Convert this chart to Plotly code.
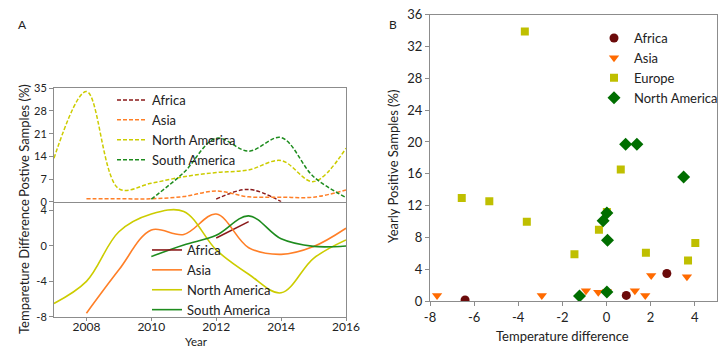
import plotly.graph_objects as go

W, H = 728, 348
FONT = "Lato"

# ---------------- Panel A data ----------------
years_all = [2007, 2008, 2009, 2010, 2011, 2012, 2013, 2014, 2015, 2016]

# Positive samples (%) by year (upper, dashed)
pos_africa_years = [2012, 2013, 2014]
pos_africa = [0.8, 3.8, 0.0]
pos_asia_years = [2008, 2009, 2010, 2011, 2012, 2013, 2014, 2015, 2016]
pos_asia = [0.9, 0.9, 0.9, 1.6, 3.3, 1.5, 1.4, 1.4, 3.6]
pos_na_years = years_all
pos_na = [13.4, 34.0, 4.0, 5.7, 7.7, 9.0, 9.8, 12.7, 6.2, 16.5]
pos_sa_years = [2010, 2011, 2012, 2013, 2014, 2015, 2016]
pos_sa = [0.8, 9.0, 19.6, 15.6, 19.8, 7.7, 1.3]

# Temperature difference by year (lower, solid)
td_africa_years = [2012, 2013]
td_africa = [0.9, 2.75]
td_asia_years = [2008, 2009, 2010, 2011, 2012, 2013, 2014, 2015, 2016]
td_asia = [-7.6, -2.7, 1.8, 1.3, 3.6, -0.2, -0.95, -0.07, 2.0]
td_na_years = years_all
td_na = [-6.5, -4.0, 1.6, 3.6, 3.9, -0.45, -3.2, -5.3, -1.4, 0.68]
td_sa_years = [2010, 2011, 2012, 2013, 2014, 2015, 2016]
td_sa = [-1.2, 0.1, 1.2, 3.4, 0.8, -0.05, 0.0]

# ---------------- Panel B data ----------------
b_africa_x = [-6.41, 0.90, 2.74]
b_africa_y = [0.13, 0.7, 3.46]
b_asia_x = [-7.68, -2.93, -0.93, -0.37, 0.02, 1.29, 1.76, 2.03, 3.65]
b_asia_y = [0.7, 0.7, 1.3, 1.1, 1.2, 1.3, 0.7, 3.2, 3.04]
b_europe_x = [-3.70, -6.56, -5.31, -3.61, -1.45, -0.34, 0.02, 0.65, 1.79, 3.70, 4.03]
b_europe_y = [33.9, 12.96, 12.54, 9.96, 5.88, 8.96, 11.2, 16.55, 6.08, 5.08, 7.29]
b_na_x = [-1.22, 0.02, 0.05, -0.15, 0.02, 0.87, 1.38, 3.50]
b_na_y = [0.63, 1.13, 7.63, 10.08, 11.08, 19.7, 19.7, 15.58]

C_AF_LINE = "#8B1A1A"
C_AS_LINE = "#FF7F27"
C_NA_LINE = "#CCCC00"
C_SA_LINE = "#1E8C1E"
C_AF_MK = "#6B0A0A"
C_AS_MK = "#FF6A00"
C_EU_MK = "#BFBF00"
C_NA_MK = "#006E00"
AXC = "#8C8C8C"
TXT = "#222"

def px_x(p):
    return p / W

def px_y(p):
    return 1 - p / H

fig = go.Figure()

dash = "4px,2px"
for name, xs, ys, col in [
    ("Africa", pos_africa_years, pos_africa, C_AF_LINE),
    ("Asia", pos_asia_years, pos_asia, C_AS_LINE),
    ("North America", pos_na_years, pos_na, C_NA_LINE),
    ("South America", pos_sa_years, pos_sa, C_SA_LINE),
]:
    fig.add_trace(go.Scatter(x=xs, y=ys, name=name, mode="lines",
                             line=dict(color=col, width=1.5, dash=dash, shape="spline", smoothing=1.0),
                             xaxis="x", yaxis="y", legend="legend"))

for name, xs, ys, col in [
    ("Africa", td_africa_years, td_africa, C_AF_LINE),
    ("Asia", td_asia_years, td_asia, C_AS_LINE),
    ("North America", td_na_years, td_na, C_NA_LINE),
    ("South America", td_sa_years, td_sa, C_SA_LINE),
]:
    fig.add_trace(go.Scatter(x=xs, y=ys, name=name, mode="lines",
                             line=dict(color=col, width=1.6, shape="spline", smoothing=1.0),
                             xaxis="x2", yaxis="y2", legend="legend2"))

for name, xs, ys, col, sym, sz in [
    ("Africa", b_africa_x, b_africa_y, C_AF_MK, "circle", 9),
    ("Asia", b_asia_x, b_asia_y, C_AS_MK, "triangle-down", 9),
    ("Europe", b_europe_x, b_europe_y, C_EU_MK, "square", 8),
    ("North America", b_na_x, b_na_y, C_NA_MK, "diamond", 10),
]:
    fig.add_trace(go.Scatter(x=xs, y=ys, name=name, mode="markers",
                             marker=dict(color=col, symbol=sym, size=sz, line=dict(width=0)),
                             xaxis="x3", yaxis="y3", legend="legend3"))

tickfontA = dict(family=FONT, size=11, color=TXT)
tickfontAx = dict(family=FONT, size=12, color=TXT)
tickfontB = dict(family=FONT, size=13, color=TXT)

def ax(tf, ticks="outside", ticklen=4):
    return dict(showline=True, linecolor=AXC, linewidth=1, showgrid=False, zeroline=False,
                ticks=ticks, ticklen=ticklen, tickcolor=AXC, tickfont=tf, automargin=False)

xA = [px_x(54), px_x(346)]
fig.update_layout(
    width=W, height=H,
    margin=dict(l=0, r=0, t=0, b=0),
    paper_bgcolor="white", plot_bgcolor="white",
    font=dict(family=FONT, size=12, color=TXT),
    xaxis=dict(domain=xA, range=[2007, 2016], anchor="y", mirror=True, showticklabels=False,
               **ax(tickfontA, ticks="")),
    yaxis=dict(domain=[px_y(201.7), px_y(88.3)], range=[0, 35], dtick=7, anchor="x", mirror=True,
               **ax(tickfontA)),
    xaxis2=dict(domain=xA, range=[2007, 2016], dtick=2, anchor="y2", mirror=False,
                ticklabelstandoff=-4, **ax(tickfontAx, ticklen=3)),
    yaxis2=dict(domain=[px_y(316.7), px_y(201.7)], range=[-8, 5], tickvals=[-8, -4, 0, 4],
                ticktext=["-8", "-4", "0", "4"], anchor="x2", mirror=True, **ax(tickfontA)),
    xaxis3=dict(domain=[px_x(430), px_x(716.7)], range=[-8, 5], tickvals=[-8, -6, -4, -2, 0, 2, 4],
                ticktext=["-8", "-6", "-4", "-2", "0", "2", "4"], anchor="y3", mirror=True,
                **ax(tickfontB)),
    yaxis3=dict(domain=[px_y(301), px_y(14.7)], range=[0, 36], dtick=4, anchor="x3", mirror=True,
                **ax(tickfontB)),
    legend=dict(x=px_x(112), y=px_y(85), xanchor="left", yanchor="top", bgcolor="rgba(0,0,0,0)",
                font=dict(family=FONT, size=13, color=TXT), tracegroupgap=0),
    legend2=dict(x=px_x(147), y=px_y(235), xanchor="left", yanchor="top", bgcolor="rgba(0,0,0,0)",
                 font=dict(family=FONT, size=13, color=TXT), tracegroupgap=0),
    legend3=dict(x=px_x(594), y=px_y(23), xanchor="left", yanchor="top", bgcolor="rgba(0,0,0,0)",
                 font=dict(family=FONT, size=13, color=TXT), tracegroupgap=0),
    showlegend=True,
)

ann = [
    dict(text="A", x=px_x(22), y=px_y(24), font=dict(size=12)),
    dict(text="B", x=px_x(393), y=px_y(24), font=dict(size=12)),
    dict(text="Postive Samples (%)", x=px_x(24), y=px_y(141), textangle=-90, font=dict(size=13)),
    dict(text="Tempareture Difference", x=px_x(24), y=px_y(267), textangle=-90, font=dict(size=13)),
    dict(text="Year", x=px_x(196), y=px_y(341), font=dict(size=11.5)),
    dict(text="Yearly Positive Samples (%)", x=px_x(393), y=px_y(166), textangle=-90, font=dict(size=13)),
    dict(text="Temperature difference", x=px_x(562), y=px_y(336), font=dict(size=13)),
]
for a in ann:
    a.update(xref="paper", yref="paper", showarrow=False, xanchor="center", yanchor="middle")
    a["font"] = dict(family=FONT, color=TXT, **a["font"])
fig.update_layout(annotations=ann)

fig.write_html("out.html")
